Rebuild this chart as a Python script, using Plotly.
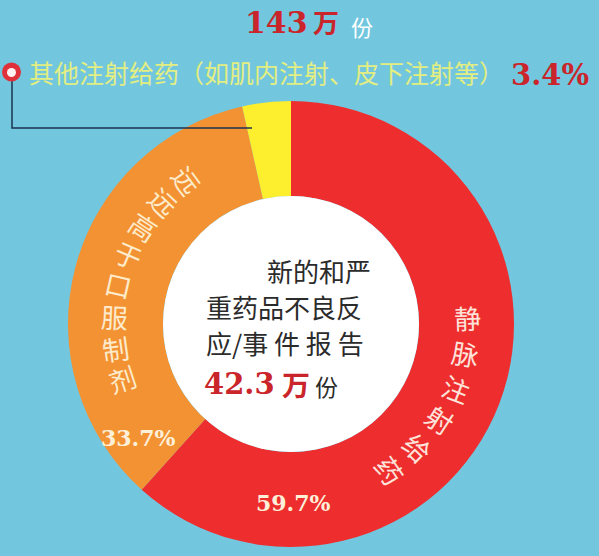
import math
import plotly.graph_objects as go

# Share of serious/new ADR reports by route of administration (%)
routes = ["静脉注射给药", "远远高于口服制剂", "其他注射给药（如肌内注射、皮下注射等）"]
shares = [59.7, 33.7, 3.4]
share_labels = ["59.7%", "33.7%", "3.4%"]
slice_colors = ["#EE2D2F", "#F39233", "#FDEE2E"]

total_reports = "143"
serious_reports = "42.3"
unit_wan = "万"
unit_fen = "份"
center_lines = ["新的和严", "重药品不良反", "应/事 件 报 告"]

W, H = 599, 556
BG = "#72C7DE"
CX, CY = 291, 324      # pie centre (px)
R_OUT, R_IN = 223, 128  # outer / inner radius (px)

SANS = "Noto Sans CJK SC"
SERIF = "DejaVu Serif"
RED_TXT = "#C9252B"


def px(x):
    return x / W


def py(y):
    return 1 - y / H


fig = go.Figure(go.Pie(
    labels=routes,
    values=shares,
    sort=False,
    direction="clockwise",
    rotation=0,
    hole=R_IN / R_OUT,
    marker=dict(colors=slice_colors, line=dict(width=0)),
    textinfo="none",
    hoverinfo="label+value",
    showlegend=False,
    domain=dict(x=[px(CX - R_OUT), px(CX + R_OUT)],
                y=[py(CY + R_OUT), py(CY - R_OUT)]),
))

shapes = [
    # white centre disc
    dict(type="circle", xref="paper", yref="paper", layer="above",
         x0=px(CX - R_IN), x1=px(CX + R_IN), y0=py(CY + R_IN), y1=py(CY - R_IN),
         fillcolor="white", line=dict(width=0)),
    # callout leader line
    dict(type="path", xref="paper", yref="paper", layer="above",
         path=f"M {px(12)} {py(80)} L {px(12)} {py(128)} L {px(252)} {py(128)}",
         line=dict(color="#1D3550", width=1.5)),
    # callout marker
    dict(type="circle", xref="paper", yref="paper", layer="above",
         x0=px(2), x1=px(21), y0=py(81.5), y1=py(62.5),
         fillcolor="#DF3139", line=dict(width=0)),
    dict(type="circle", xref="paper", yref="paper", layer="above",
         x0=px(7), x1=px(16), y0=py(77), y1=py(68),
         fillcolor="#FFF1F1", line=dict(width=0)),
]

ann = []


def text(x, y, s, size, color, family=SANS, xanchor="center", angle=0, bold=False):
    ann.append(dict(
        x=px(x), y=py(y), xref="paper", yref="paper",
        text=f"<b>{s}</b>" if bold else s,
        showarrow=False, xanchor=xanchor, yanchor="middle",
        textangle=angle,
        font=dict(family=family, size=size, color=color),
    ))


def arc_text(chars, start_deg, step_deg, radius, size, color, upright_at):
    # angles measured clockwise from 12 o'clock
    for i, ch in enumerate(chars):
        a = start_deg + i * step_deg
        t = math.radians(a)
        x = CX + radius * math.sin(t)
        y = CY - radius * math.cos(t)
        text(x, y, ch, size, color, angle=a - upright_at)


# headline
text(310, 23, total_reports, 30, RED_TXT, family=SERIF, xanchor="right", bold=True)
text(311, 22, unit_wan, 26, RED_TXT, xanchor="left", bold=True)
text(349, 26, unit_fen, 22, "#FFFFFF", xanchor="left")

# callout for the small slice
text(27, 72, routes[2], 25, "#E3EE82", xanchor="left")
text(509, 75, share_labels[2], 29, RED_TXT, family=SERIF, xanchor="left", bold=True)

# labels running along the ring
arc_text(routes[0], 88, 11.6, 177, 27, "#FDE3DA", upright_at=90)
arc_text(routes[1], 324, -10.3, 177, 27, "#FDEBCB", upright_at=270)

# percentages on the ring
text(138, 438, share_labels[1], 22, "#FDF0D8", family=SERIF, bold=True)
text(293, 503, share_labels[0], 22, "#FDF0D8", family=SERIF, bold=True)

# centre block
text(373, 270, center_lines[0], 26, "#2B2B2B", xanchor="right")
text(204, 306, center_lines[1], 26, "#2B2B2B", xanchor="left")
text(204, 342, center_lines[2], 26, "#2B2B2B", xanchor="left")
text(277, 384, serious_reports, 29, RED_TXT, family=SERIF, xanchor="right", bold=True)
text(280, 384, unit_wan, 28, RED_TXT, xanchor="left", bold=True)
text(313, 386, unit_fen, 23, "#2B2B2B", xanchor="left")

fig.update_layout(
    width=W, height=H,
    margin=dict(l=0, r=0, t=0, b=0),
    paper_bgcolor=BG, plot_bgcolor=BG,
    shapes=shapes, annotations=ann,
)

fig.write_html("out.html")
